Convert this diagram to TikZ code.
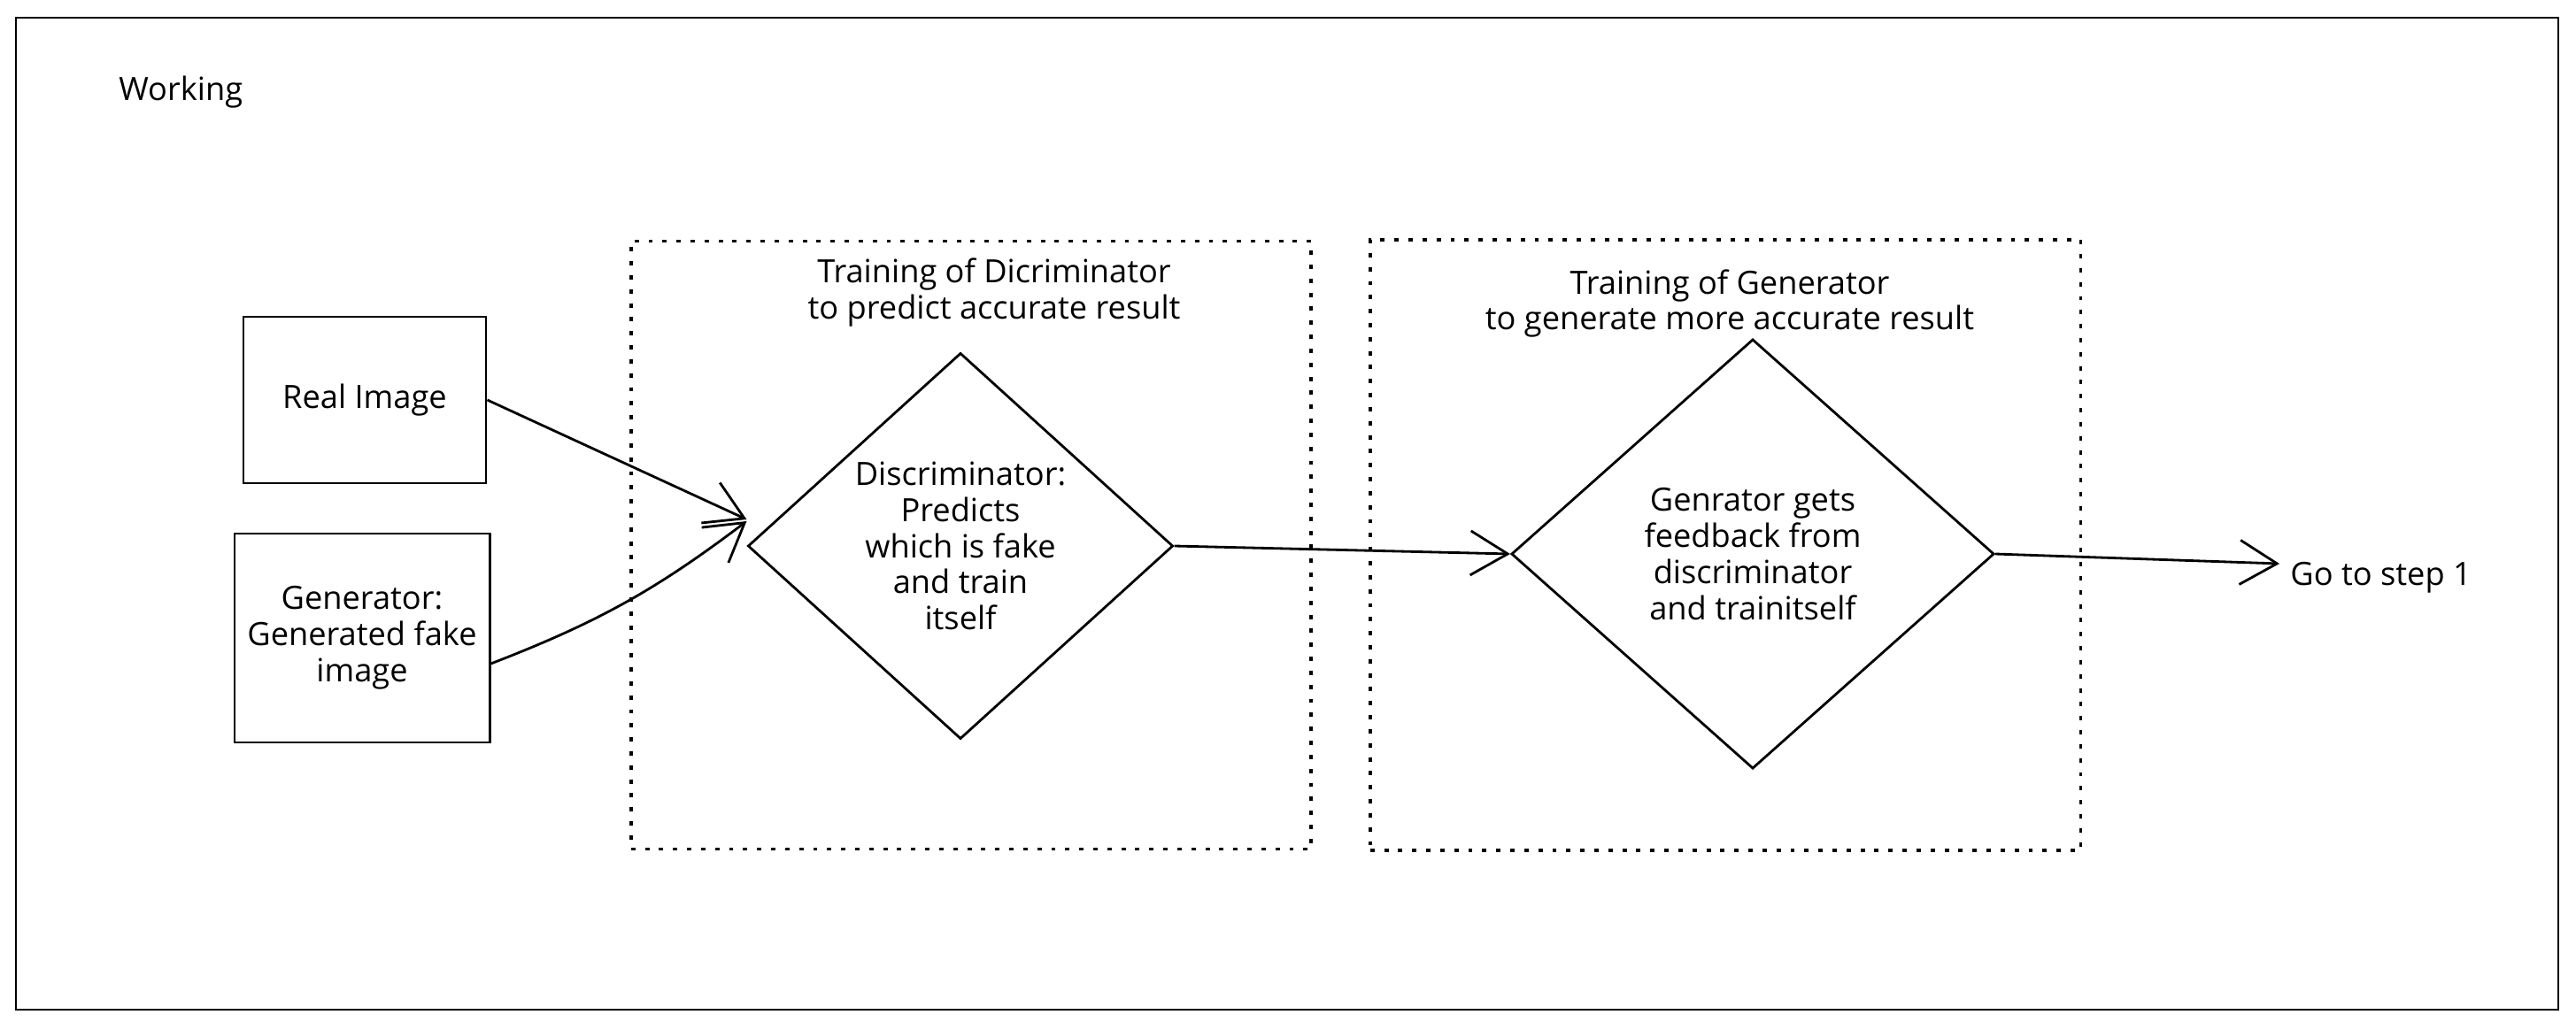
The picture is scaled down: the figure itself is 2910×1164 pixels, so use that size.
\documentclass[tikz,border=0pt]{standalone}
\usepackage{fontspec}
\setmainfont{Open Sans}
\usetikzlibrary{arrows.meta,positioning,shapes.geometric}

\begin{document}
\begin{tikzpicture}[
    x=0.01cm, y=-0.01cm,
    font=\fontsize{10.3}{11.6}\selectfont,
    box/.style={draw, line width=0.8pt, align=center, inner sep=2pt},
    decision/.style={draw, diamond, line width=0.8pt, align=center, inner sep=0pt},
    group/.style={draw, line width=1pt, dash pattern=on 1.4pt off 3.1pt},
    arrow/.style={-{Straight Barb[length=0.42cm, width=0.5cm]}, line width=0.8pt},
    txt/.style={align=center, text=black}
  ]
  % Frame
  \useasboundingbox (0,0) rectangle (2910,1164);
  \draw[line width=0.8pt] (18,20) rectangle (2890,1141);

  % Nodes
  \node[txt, anchor=west] (work) at (122,104) {Working};

  \node[box, minimum width=2.74cm, minimum height=1.88cm] (real) at (412,452) {Real Image};
  \node[box, minimum width=2.88cm, minimum height=2.36cm] (gen) at (409,721) {Generator:\\Generated fake\\image};

  \node[group, minimum width=7.68cm, minimum height=6.87cm] (grpd) at (1097,616) {};
  \node[txt, below=0.09cm of grpd.north, xshift=0.26cm] (titled) {Training of Dicriminator\\to predict accurate result};
  \node[decision, minimum width=4.8cm, minimum height=4.36cm] (disc) at (1085,617) {Discriminator:\\Predicts\\which is fake\\and train\\itself};

  \node[group, minimum width=8.02cm, minimum height=6.9cm] (grpg) at (1949,616) {};
  \node[txt, below=0.23cm of grpg.north, xshift=0.05cm] (titleg) {Training of Generator\\to generate more accurate result};
  \node[decision, minimum width=5.45cm, minimum height=4.85cm] (genr) at (1980,626) {Genrator gets\\feedback from\\discriminator\\and trainitself};

  \node[txt, anchor=west] (step) at (2575,653) {Go to step 1};

  % Arrows
  \draw[arrow] (real.east) -- ([yshift=0.3cm]disc.west);
  \draw[arrow] ([yshift=-0.29cm]gen.east) to[bend right=8] ([yshift=0.28cm]disc.west);
  \draw[arrow] (disc.east) -- (genr.west);
  \draw[arrow] (genr.east) -- ([yshift=0.16cm]step.west);
\end{tikzpicture}
\end{document}
